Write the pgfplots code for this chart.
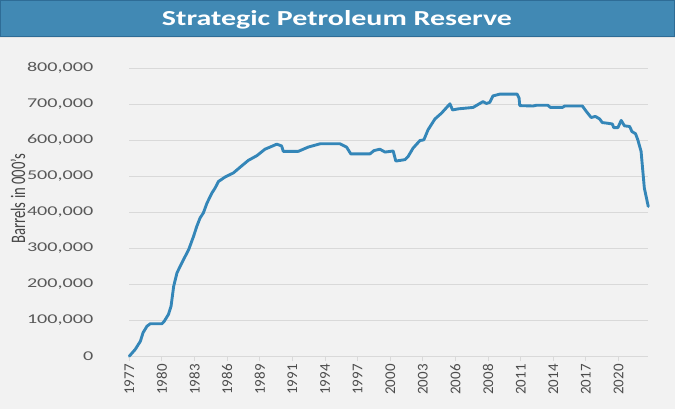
\documentclass[border=0pt]{standalone}
\usepackage{pgfplots}
\pgfplotsset{compat=1.18}
\usepackage{fontspec}
\setmainfont{Carlito}
\definecolor{barblue}{RGB}{65,137,180}
\definecolor{barborder}{RGB}{46,108,150}
\definecolor{bg}{RGB}{242,242,242}
\definecolor{gridc}{RGB}{217,217,217}
\definecolor{linec}{RGB}{52,134,184}
\definecolor{labc}{RGB}{89,89,89}
\newcommand{\xl}[1]{\scalebox{1}[1.4]{#1}}
\begin{document}
\begin{tikzpicture}[x=1bp,y=1bp]
\fill[bg] (0,0) rectangle (675,410);
\draw[gridc!70!white, line width=1bp] (0,372.5) -- (675,372.5);
\fill[barblue] (0,373.3) rectangle (675,410);
\draw[barborder, line width=1bp] (0.5,373.8) rectangle (674.5,409.5);
\node[anchor=base, text=white, font=\fontsize{21.5}{24}\selectfont\bfseries, inner sep=0pt] at (337,384) {\scalebox{1.4}[1]{Strategic Petroleum Reserve}};
\node[rotate=90, text=labc!80!black, font=\fontsize{14.8}{17}\selectfont, inner sep=0pt] at (17.5,211) {\xl{Barrels in 000's}};
\begin{axis}[
  at={(129bp,53.3bp)}, anchor=south west,
  scale only axis, width=519.7bp, height=288.4bp,
  xmin=0, xmax=15.91, ymin=0, ymax=800000,
  axis line style={draw=none},
  ymajorgrids, grid style={gridc, line width=1bp},
  ytick={0,100000,200000,300000,400000,500000,600000,700000,800000},
  yticklabels={0,{100,000},{200,000},{300,000},{400,000},{500,000},{600,000},{700,000},{800,000}},
  xtick={0,1,...,15},
  xticklabels={1977,1980,1983,1986,1989,1991,1994,1997,2000,2003,2006,2008,2011,2014,2017,2020},
  tick pos=left,
  ytick style={draw=none},
  xtick style={draw=gridc, line width=1bp},
  major tick length=5bp, tick align=outside,
  scaled y ticks=false,
  yticklabel style={font=\fontsize{13.5}{16}\selectfont, text=labc, xscale=1.5, anchor=east, inner sep=0pt, xshift=-20.5bp},
  xticklabel style={font=\fontsize{15}{17}\selectfont, text=labc!85!black, yshift=-3bp, rotate=90, anchor=east, inner sep=0pt},
  clip=false,
]
\addplot[linec, line width=2.9pt, line join=round, line cap=round] coordinates {
(0,0) (0.18,18600) (0.34,41600) (0.42,65000) (0.54,83000) (0.64,90000)
(1.00,90000) (1.07,97000) (1.20,116000) (1.28,139000) (1.36,194000) (1.46,231000)
(1.56,250000) (1.66,268000) (1.82,296000) (1.97,333000) (2.07,361000) (2.17,384000)
(2.27,398000) (2.38,425000) (2.53,453000) (2.63,467000) (2.73,485000) (2.94,498000)
(3.19,509000) (3.45,529000) (3.65,544000) (3.91,557000) (4.16,575000) (4.37,583000)
(4.52,589000) (4.67,584000) (4.72,569000) (5.18,569000) (5.49,581000) (5.85,590000)
(6.46,590000) (6.66,581000) (6.79,562000) (7.38,562000) (7.50,571000) (7.68,575000)
(7.84,567000) (8.09,570000) (8.17,542000) (8.45,546000) (8.55,555000) (8.70,578000)
(8.91,599000) (9.03,601000) (9.16,629000) (9.37,659000) (9.57,675000) (9.83,701000)
(9.91,684000) (10.08,687000) (10.54,691000) (10.84,707000) (10.95,702000) (11.05,705000)
(11.15,723000) (11.36,728000) (11.89,728000) (11.95,717000) (11.97,696000) (12.38,695000)
(12.48,697000) (12.83,697000) (12.91,691000) (13.28,691000) (13.35,695000) (13.89,695000)
(14.01,680000) (14.16,663000) (14.29,666000) (14.42,659000) (14.50,649000) (14.67,647000)
(14.81,645000) (14.85,635000) (14.98,635000) (15.08,655000) (15.18,640000) (15.34,638000)
(15.41,624000) (15.52,618000) (15.59,601000) (15.69,569000) (15.79,467000) (15.91,416000)
};
\end{axis}
\end{tikzpicture}
\end{document}
